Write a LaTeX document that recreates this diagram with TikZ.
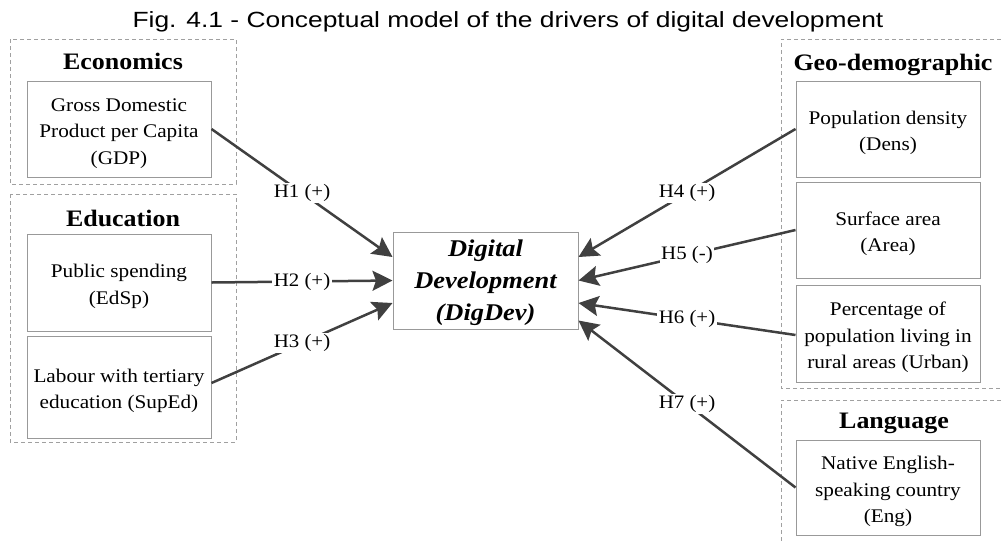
\documentclass[tikz,border=0pt]{standalone}
\usepackage{fontspec}
\setmainfont{Liberation Serif}[FakeStretch=1.1]
\newfontfamily\titlefont{Liberation Sans}[FakeStretch=1.2]
\usetikzlibrary{arrows.meta}
\definecolor{boxgray}{HTML}{999999}
\definecolor{dashgray}{HTML}{A0A0A0}
\definecolor{arrowgray}{HTML}{404040}
\newcommand{\boxstrut}{\rule{0pt}{21.5pt}}
\newcommand{\digstrut}{\rule{0pt}{21pt}}
\begin{document}
\begin{tikzpicture}[x=1pt,y=-1pt,
  varbox/.style={draw=boxgray, line width=1pt, minimum width=184pt, align=center, inner sep=0pt,
    font=\fontsize{19.3}{26.5}\selectfont},
  heading/.style={font=\fontsize{23.6}{28}\selectfont\bfseries, anchor=base, inner sep=0pt},
  group/.style={draw=dashgray, line width=1pt, dash pattern=on 4pt off 3pt},
  hyp/.style={draw=arrowgray, line width=2.5pt, -{Stealth[length=20pt,width=20pt,inset=3.5pt]}},
  hlabel/.style={fill=white, inner sep=1.5pt, font=\fontsize{19}{22}\selectfont, text=black}]
\useasboundingbox (0,0) rectangle (1001,542);

% title
\node[anchor=base, inner sep=0pt, font=\titlefont\fontsize{22}{26}\selectfont] (title) at (508,27) {Fig. 4.1 - Conceptual model of the drivers of digital development};

% dashed groups
\draw[group] (10,39) rectangle (236,184);
\draw[group] (10,194) rectangle (236,442);
\draw[group] (1001,39) -- (781,39) -- (781,388) -- (1001,388);
\draw[group] (1001,400) -- (781,400) -- (781,542);

% headings
\node[heading] (hecon) at (123,69) {Economics};
\node[heading] (hedu) at (123,226) {Education};
\node[heading] (hgeo) at (893,70) {Geo-demographic};
\node[heading] (hlang) at (894,428) {Language};

% variable boxes
\node[varbox, minimum height=96pt] (gdp) at (119,129) {\boxstrut Gross Domestic\\Product per Capita\\(GDP)};
\node[varbox, minimum height=97pt] (edsp) at (119,282.5) {\boxstrut Public spending\\(EdSp)};
\node[varbox, minimum height=102pt] (suped) at (119,387) {\boxstrut Labour with tertiary\\education (SupEd)};
\node[varbox, minimum height=96pt] (dens) at (888,129) {\boxstrut Population density\\(Dens)};
\node[varbox, minimum height=96pt] (area) at (888,230) {\boxstrut Surface area\\(Area)};
\node[varbox, minimum height=97pt] (urban) at (888,333.5) {\boxstrut Percentage of\\population living in\\rural areas (Urban)};
\node[varbox, minimum height=95pt] (eng) at (888,487.5) {\boxstrut Native English-\\speaking country\\(Eng)};

% central node
\node[draw=boxgray, line width=1pt, minimum width=185pt, minimum height=97pt, align=center, inner sep=0pt,
  font=\fontsize{24}{32}\selectfont\bfseries\itshape] (dig) at (485.5,280.5) {\digstrut Digital\\Development\\(DigDev)};

% hypotheses
\draw[hyp] (gdp.east) -- node[hlabel] {H1 (+)} ([yshift=23.5pt]dig.west);
\draw[hyp] (edsp.east) -- node[hlabel] {H2 (+)} (dig.west);
\draw[hyp] ([yshift=4pt]suped.east) -- node[hlabel] {H3 (+)} ([yshift=-22.5pt]dig.west);
\draw[hyp] (dens.west) -- node[hlabel] {H4 (+)} ([yshift=23.5pt]dig.east);
\draw[hyp] (area.west) -- node[hlabel] {H5 (-)} (dig.east);
\draw[hyp] ([yshift=-1.5pt]urban.west) -- node[hlabel] {H6 (+)} ([yshift=-22.5pt]dig.east);
\draw[hyp] (eng.west) -- node[hlabel] {H7 (+)} ([yshift=-40pt]dig.east);
\end{tikzpicture}
\end{document}
